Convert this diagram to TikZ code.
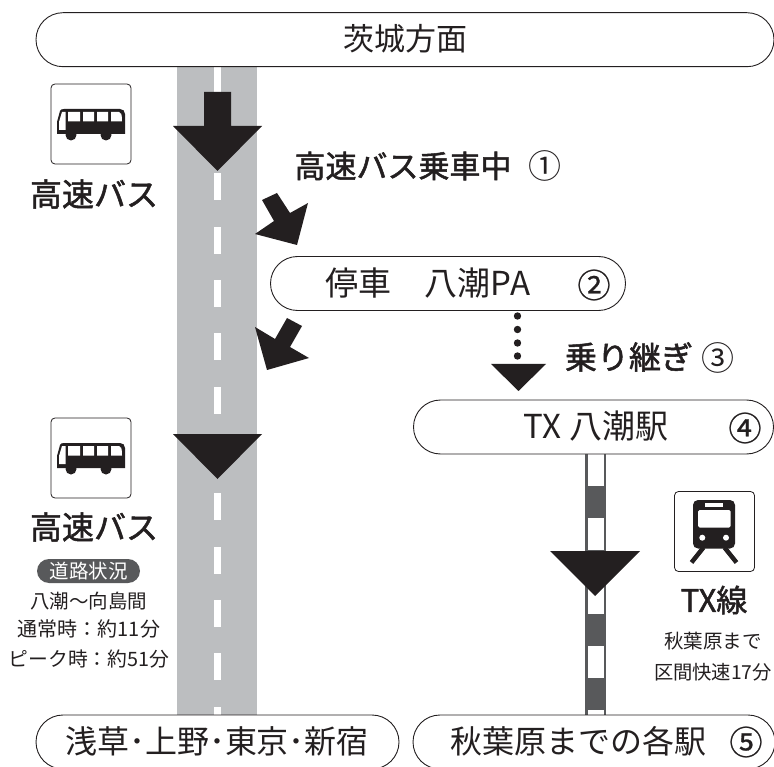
\documentclass[tikz,border=0pt]{standalone}
\usepackage{fontspec}
\setmainfont{Noto Sans CJK JP}
\newfontfamily\med{Noto Sans CJK JP}[FakeBold=1.6]
\newfontfamily\numf{Noto Sans CJK JP}[FakeBold=0.8]
\definecolor{ink}{HTML}{231F20}
\definecolor{road}{HTML}{BCBEC0}
\definecolor{rail}{HTML}{58595B}
\newcommand{\fs}[1]{\fontsize{#1}{#1}\selectfont}
\tikzset{
 x=1pt,y=-1pt,
 pill/.style={draw=ink,line width=0.9pt,fill=white,inner sep=0pt,minimum height=54pt,rounded corners=27pt},
 arrowfill/.style={fill=ink,draw=none},
 iconbox/.style={draw=ink,line width=0.8pt,fill=white,rounded corners=4pt},
 txt/.style={inner sep=0pt,text=ink,anchor=center},
}
\newcommand{\busicon}[2]{%
\begin{scope}[shift={(#1,#2)}]
 \draw[iconbox] (0,0) rectangle (80,80);
 \fill[ink] (6,50) -- (6,38) -- (9,27) .. controls (9.5,25.5) and (11,25) .. (13,25) -- (69,25) .. controls (72,25) and (74,27) .. (74,30) -- (74,50) -- cycle;
 \fill[ink] (20,51) circle (5.5) (55,51) circle (5.5);
 \fill[white] (17,28) rectangle (29,37.5) (32,28) rectangle (43,37.5) (46,28) rectangle (57,37.5) (60,28) -- (68,28) .. controls (70,28) and (71,30) .. (71,37.5) -- (60,37.5) -- cycle;
 \fill[white] (8,46) -- (8,38) -- (11,28) -- (14.5,28) -- (14.5,46) -- cycle;
\end{scope}}
\begin{document}
\begin{tikzpicture}
\useasboundingbox (0,0) rectangle (774,767);
% road
\fill[road] (177,66) rectangle (257,720);
\foreach \yy in {173,227,280,333,387,440,493,547,600,653,707}
  \fill[white] (214,\yy) rectangle (220.5,{\yy+27});
\fill[white] (214,66) rectangle (220.5,96);
% rail
\fill[rail] (585,450) rectangle (606,720);
\foreach \yy in {454,518,582,646,710}
  \fill[white] (587.5,\yy) rectangle (603.5,{\yy+31.5});
% pills
\node[pill,minimum width=738pt] (top) at (405,39.7) {};
\node[txt] (toplabel) at (405,39) {\fs{31}茨城方面};
\node[pill,minimum width=355pt] (pa) at (448,283.5) {};
\node[txt] (palabel) at (428,283) {\fs{33}停車\hspace{1em}八潮PA};
\node[txt] (panum) at (594,285) {\numf\fs{33}②};
\node[pill,minimum width=360pt] (tx) at (593.5,427) {};
\node[txt] (txlabel) at (596,426) {\fs{33}TX 八潮駅};
\node[txt] (txnum) at (745,428) {\numf\fs{33}④};
\node[pill,minimum width=363pt] (goal1) at (217.5,742) {};
\node[txt] (goal1label) at (217,741) {\fs{32}浅草･上野･東京･新宿};
\node[pill,minimum width=362pt] (goal2) at (594,742) {};
\node[txt] (goal2label) at (578.5,741) {\fs{32}秋葉原までの各駅};
\node[txt] (goal2num) at (746,742) {\numf\fs{33}⑤};
% arrows
\fill[arrowfill] (204,92) -- (231,92) -- (231,126) -- (262,126) -- (217.5,171) -- (173,126) -- (204,126) -- cycle;
\fill[arrowfill] (262,200) -- (277,193) -- (290,213) -- (308,203) -- (297,245) -- (255,234) -- (274,221) -- cycle;
\fill[arrowfill] (302,326) -- (287,318) -- (275,339) -- (255,327) -- (267,370) -- (309,358) -- (290,347) -- cycle;
\fill[arrowfill] (173,434) -- (262,434) -- (217.5,479) -- cycle;
\fill[arrowfill] (491,364) -- (546,364) -- (518.5,391) -- cycle;
\fill[arrowfill] (550,551) -- (640,551) -- (595,596) -- cycle;
\foreach \yy in {316,329.5,343,356} \fill[ink] (517.5,\yy) circle (3.7);
% icons
\busicon{51}{84}
\busicon{51}{418}
\begin{scope}[shift={(674.5,491.5)}]
 \draw[iconbox] (0,0) rectangle (80,80);
 \fill[ink,rounded corners=5pt] (18.5,8.5) rectangle (60.5,57);
 \fill[white,rounded corners=1.5pt] (23.5,18.5) rectangle (56,36);
 \fill[white] (30.5,11.5) rectangle (48.5,15.5);
 \fill[white] (27.8,46.2) circle (3) (51.5,46.2) circle (3);
 \draw[ink,line width=4.5pt] (29,56) -- (17,71) (50,56) -- (62,71);
\end{scope}
\node[txt] (buslabel1) at (94,194) {\med\fs{32}高速バス};
\node[txt] (buslabel2) at (94,527) {\med\fs{32}高速バス};
\node[txt] (ride) at (403,166) {\med\fs{31}高速バス乗車中};
\node[txt] (ridenum) at (545,166) {\fs{33}①};
\node[txt] (change) at (629,357) {\med\fs{32}乗り継ぎ};
\node[txt] (changenum) at (718,358) {\fs{33}③};
\node[txt] (txline) at (714,600) {\med\fs{31}TX線};
\node[txt] (akiba) at (713,641) {\fs{19.5}秋葉原まで};
\node[txt] (rapid) at (713,672) {\fs{19.3}区間快速17分};
\node[draw=none,fill=rail,rounded corners=12pt,minimum width=103pt,minimum height=24pt,inner sep=0pt,text=white] (tag) at (88.5,571) {\fs{19.5}道路状況};
\node[txt] (sect) at (89,601) {\fs{19.5}八潮～向島間};
\node[txt] (normal) at (89,629) {\fs{20}通常時：約11分};
\node[txt] (peak) at (89,659) {\fs{19.8}ピーク時：約51分};
\end{tikzpicture}
\end{document}
